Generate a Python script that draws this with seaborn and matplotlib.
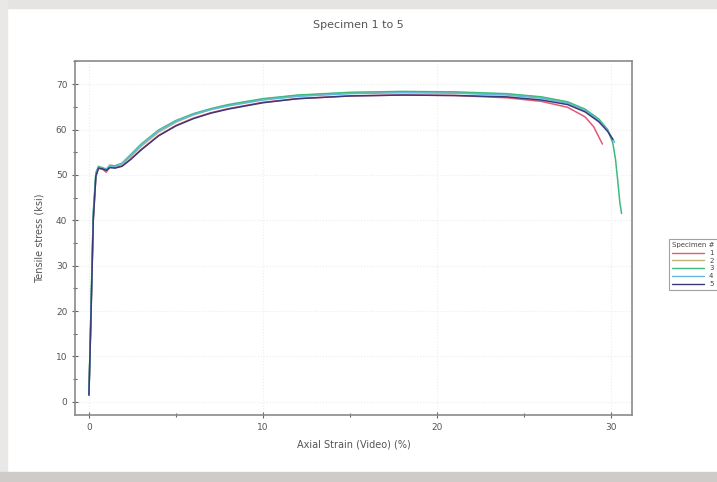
import numpy as np
import pandas as pd
import matplotlib
matplotlib.use("Agg")
import matplotlib.pyplot as plt
from matplotlib.patches import Rectangle
from matplotlib.ticker import MultipleLocator
import seaborn as sns

# strain (%) and stress (ksi), one pair per specimen
strain_1 = [0, 0.1, 0.25, 0.4, 0.55, 0.8, 1.0, 1.2, 1.5, 1.9, 2.4, 3, 4, 5, 6, 7, 8, 10, 12, 15, 18, 21, 24, 26, 27.5, 28.5, 29.0, 29.5]
stress_1 = [1.5, 16, 40, 49.5, 51.5, 51.2, 50.6, 51.8, 51.6, 52.0, 53.5, 55.6, 58.7, 60.9, 62.5, 63.7, 64.6, 66.0, 66.8, 67.4, 67.6, 67.5, 67.0, 66.2, 64.9, 62.8, 60.6, 56.8]

strain_2 = [0, 0.1, 0.25, 0.4, 0.55, 0.8, 1.0, 1.2, 1.5, 1.9, 2.4, 3, 4, 5, 6, 7, 8, 10, 12, 15, 18, 21, 24, 26, 27.5, 28.5, 29.3, 29.8, 30.1]
stress_2 = [1.5, 17, 41, 50, 51.8, 51.6, 51.2, 52.2, 52.0, 52.4, 54.0, 56.3, 59.4, 61.6, 63.2, 64.4, 65.3, 66.7, 67.5, 68.1, 68.3, 68.2, 67.8, 67.1, 66.0, 64.3, 62.0, 59.8, 57.8]

strain_3 = [0, 0.1, 0.25, 0.4, 0.55, 0.8, 1.0, 1.2, 1.5, 1.9, 2.4, 3, 4, 5, 6, 7, 8, 10, 12, 15, 18, 21, 24, 26, 27.5, 28.5, 29.3, 29.8, 30.1, 30.25, 30.4, 30.5, 30.6]
stress_3 = [1.5, 18, 42, 50.5, 51.9, 51.5, 51.3, 52.0, 52.0, 52.6, 54.5, 56.8, 59.9, 62.0, 63.5, 64.6, 65.5, 66.8, 67.6, 68.2, 68.4, 68.3, 67.9, 67.2, 66.1, 64.5, 62.3, 60.0, 57.0, 53.5, 48.0, 44.0, 41.5]

strain_4 = [0, 0.1, 0.25, 0.4, 0.55, 0.8, 1.0, 1.2, 1.5, 1.9, 2.4, 3, 4, 5, 6, 7, 8, 10, 12, 15, 18, 21, 24, 26, 27.5, 28.5, 29.3, 29.8, 30.2]
stress_4 = [1.5, 17, 41, 50.3, 51.7, 51.4, 51.2, 51.9, 51.8, 52.5, 54.3, 56.6, 59.7, 61.8, 63.3, 64.4, 65.2, 66.5, 67.3, 67.9, 68.1, 68.0, 67.6, 66.9, 65.8, 64.2, 62.0, 59.8, 57.2]

strain_5 = [0, 0.1, 0.25, 0.4, 0.55, 0.8, 1.0, 1.2, 1.5, 1.9, 2.4, 3, 4, 5, 6, 7, 8, 10, 12, 15, 18, 21, 24, 26, 27.5, 28.5, 29.3, 29.8, 30.1]
stress_5 = [1.5, 16, 40, 49.8, 51.5, 51.3, 51.0, 51.6, 51.5, 51.9, 53.4, 55.5, 58.6, 60.8, 62.4, 63.6, 64.5, 65.9, 66.8, 67.4, 67.6, 67.5, 67.2, 66.5, 65.5, 63.9, 61.7, 59.6, 57.8]

specimens = ["1", "2", "3", "4", "5"]
colors = ["#e25a78", "#bfb27a", "#3fba7e", "#62b8dc", "#3a3a78"]

x_ticks = [0, 10, 20, 30]
y_ticks = [0, 10, 20, 30, 40, 50, 60, 70]

frames = []
for name, sx, sy in zip(specimens,
                        [strain_1, strain_2, strain_3, strain_4, strain_5],
                        [stress_1, stress_2, stress_3, stress_4, stress_5]):
    frames.append(pd.DataFrame({"strain": sx, "stress": sy, "Specimen #": name}))
df = pd.concat(frames, ignore_index=True)

sns.set_style("white")
plt.rcParams["font.family"] = ["DejaVu Sans"]

fig = plt.figure(figsize=(7.17, 4.82), dpi=100)
fig.patch.set_facecolor("white")

# card-like border round the picture
fig.patches.append(Rectangle((0, 1 - 8 / 482), 1, 8 / 482, transform=fig.transFigure,
                             color="#e6e4e2", zorder=0))
fig.patches.append(Rectangle((0, 0), 7 / 717, 1, transform=fig.transFigure,
                             color="#eae8e6", zorder=0))
fig.patches.append(Rectangle((0, 0), 1, 10 / 482, transform=fig.transFigure,
                             color="#cfcbc8", zorder=0))

ax = fig.add_axes([75 / 717, 1 - 415 / 482, (632 - 75) / 717, (415 - 61) / 482])

sns.lineplot(data=df, x="strain", y="stress", hue="Specimen #", palette=colors,
             estimator=None, sort=False, linewidth=1.1, ax=ax)

ax.set_xlim(-0.8, 31.2)
ax.set_ylim(-2.9, 75.1)
ax.set_xticks(x_ticks)
ax.set_yticks(y_ticks)
ax.xaxis.set_minor_locator(MultipleLocator(5))
ax.yaxis.set_minor_locator(MultipleLocator(5))
ax.grid(True, which="major", color="#ececec", linestyle=":", linewidth=0.8)
ax.tick_params(which="both", direction="inout", length=4, width=0.8, color="#666666",
               labelsize=6.5, labelcolor="#555555", bottom=True, left=True)
ax.tick_params(which="minor", length=3)
for side, sp in ax.spines.items():
    sp.set_color("#8a8a8a")
    sp.set_linewidth(1.2)

ax.set_xlabel("Axial Strain (Video) (%)", fontsize=7, color="#555555", labelpad=6)
ax.set_ylabel("Tensile stress (ksi)", fontsize=7, color="#555555", labelpad=8)

fig.text(358 / 717, 1 - 25 / 482, "Specimen 1 to 5", ha="center", va="center",
         fontsize=8, color="#555555")

leg = ax.legend(title="Specimen #", loc="upper left", bbox_to_anchor=(666 / 717, 1 - 236 / 482),
                bbox_transform=fig.transFigure, fontsize=5, title_fontsize=5,
                frameon=True, fancybox=False, handlelength=4.5, handletextpad=0.8,
                labelspacing=0.25, borderpad=0.4, alignment="left")
leg.get_frame().set_edgecolor("#8a8a8a")
leg.get_frame().set_linewidth(0.8)
for t in leg.get_texts():
    t.set_color("#444444")
leg.get_title().set_color("#444444")
for line in leg.get_lines():
    line.set_linewidth(1.0)

fig.savefig("out.png", dpi=100)
